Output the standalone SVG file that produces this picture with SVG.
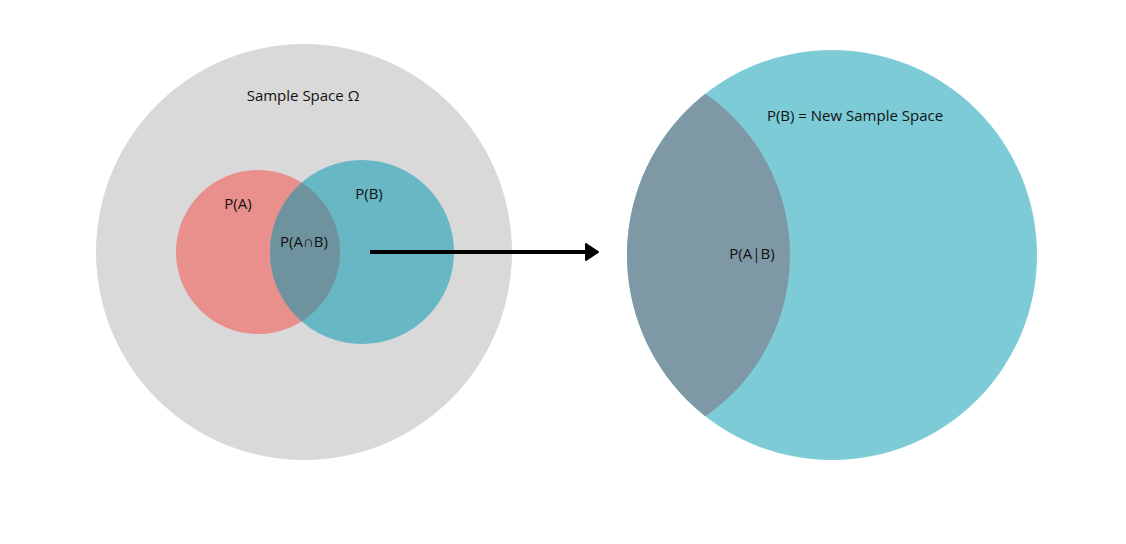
<svg xmlns="http://www.w3.org/2000/svg" width="1126" height="544" viewBox="0 0 1126 544">
<style>
text{font-family:"Open Sans","Liberation Sans",sans-serif;font-size:15px;fill:#111;}
</style>
<defs>
<clipPath id="cb"><circle cx="362" cy="252" r="92"/></clipPath>
<clipPath id="cr"><circle cx="832" cy="255" r="205"/></clipPath>
</defs>
<rect width="1126" height="544" fill="#fff"/>
<g id="omega"><circle cx="304" cy="252" r="208" fill="#d9d9d9"/><text x="303" y="101" text-anchor="middle">Sample Space Ω</text></g>
<g id="A"><circle cx="258" cy="252" r="82" fill="#e98f8c"/><text x="238" y="209" text-anchor="middle">P(A)</text></g>
<g id="B"><circle cx="362" cy="252" r="92" fill="#68b7c5"/><text x="369" y="199" text-anchor="middle">P(B)</text></g>
<g id="AB"><circle cx="258" cy="252" r="82" fill="#6f939e" clip-path="url(#cb)"/><text x="304" y="247" text-anchor="middle">P(A∩B)</text></g>
<g id="newB"><circle cx="832" cy="255" r="205" fill="#7ecbd8"/><text x="855" y="121" text-anchor="middle">P(B) = New Sample Space</text></g>
<g id="AgB"><circle cx="594" cy="255" r="196" fill="#7e99a5" clip-path="url(#cr)"/><text x="752" y="259" text-anchor="middle">P(A|B)</text></g>
<g id="connectors">
<line x1="370" y1="252" x2="588" y2="252" stroke="#000" stroke-width="4"/>
<path d="M586 244 L598 252 L586 260 Z" fill="#000" stroke="#000" stroke-width="2" stroke-linejoin="round"/>
</g>
</svg>
